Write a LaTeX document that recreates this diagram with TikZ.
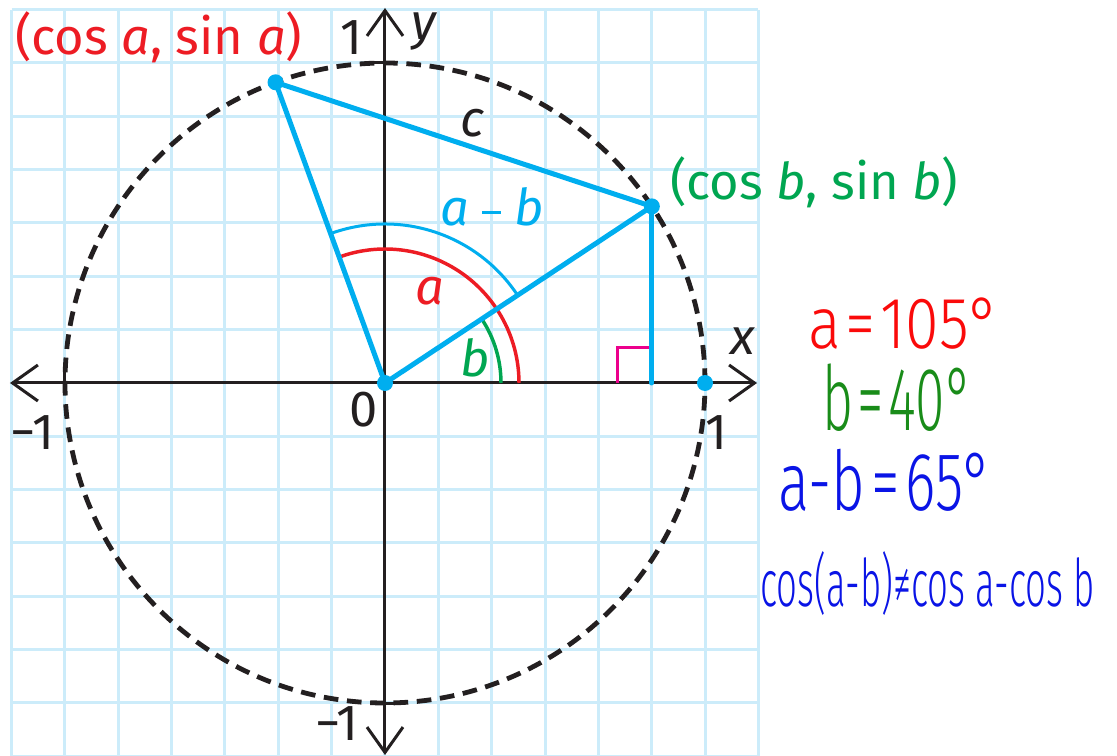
\documentclass[tikz,border=0pt]{standalone}
\usepackage{fontspec}
\setmainfont{Fira Sans}
\IfFontExistsTF{Fira Sans Light}{\newfontfamily\handfont{Fira Sans Light}}{\newfontfamily\handfont{Fira Sans}}
\usetikzlibrary{arrows.meta}
\definecolor{gridc}{RGB}{204,236,250}
\definecolor{ink}{RGB}{35,31,32}
\definecolor{cy}{RGB}{0,174,239}
\definecolor{rd}{RGB}{237,28,36}
\definecolor{gr}{RGB}{0,166,81}
\definecolor{mg}{RGB}{236,0,140}
\definecolor{hred}{RGB}{250,10,10}
\definecolor{hgreen}{RGB}{25,140,25}
\definecolor{hblue}{RGB}{10,20,230}
\tikzset{
  lbl/.style={font=\fontsize{38}{40}\selectfont, inner sep=0pt},
  gridline/.style={gridc, line width=2.25pt},
  axis/.style={ink, line width=2.25pt, {Straight Barb[length=19pt,width=27pt]}-{Straight Barb[length=19pt,width=27pt]}},
  tick/.style={ink, line width=2.25pt},
  unitcircle/.style={ink, line width=3.6pt, dash pattern=on 11pt off 6.5pt},
  seg/.style={cy, line width=3.75pt, line cap=round},
  dot/.style={cy},
  hand/.style={inner sep=0pt, font=\handfont},
}
\begin{document}
\begin{tikzpicture}[x=0.75pt,y=0.75pt]
\useasboundingbox (-385,-373) rectangle (732,383);
\fill[white] (-385,-373) rectangle (732,383);
% grid
\foreach \i in {-7,...,7} {
  \draw[gridline] (\i*53.333,-373) -- (\i*53.333,373);
  \draw[gridline] (-373,\i*53.333) -- (373,\i*53.333);
}
% circle
\draw[unitcircle] (0,0) circle (320);
% axes
\coordinate (xl) at (-375,0);
\coordinate (xr) at (372,0);
\coordinate (yb) at (0,-372);
\coordinate (yt) at (0,375);
\draw[axis] (xl) -- (xr);
\draw[axis] (yb) -- (yt);
\draw[tick] (-320,-12) -- (-320,12);
\draw[tick] (-12,320) -- (12,320);
\draw[tick] (-12,-320) -- (12,-320);
% points
\coordinate (O) at (0,0);
\coordinate (A) at (110:320);
\coordinate (B) at (33.5:320);
\coordinate (E) at (320,0);
\coordinate (F) at (B |- O);
% arcs
\draw[gr, line width=2.6pt] (116,0) arc[start angle=0, end angle=33.5, radius=116];
\draw[rd, line width=2.6pt] (134,0) arc[start angle=0, end angle=110, radius=134];
\draw[cy, line width=2.25pt] (33.5:159) arc[start angle=33.5, end angle=110, radius=159];
% right angle
\draw[mg, line width=2.25pt] (F) ++(-34,0) -- ++(0,35) -- ++(34,0);
% segments
\draw[seg] (O) -- (A);
\draw[seg] (A) -- (B);
\draw[seg] (O) -- (B);
\draw[seg] (B) -- (F);
% dots
\foreach \p in {O,A,B,E} \fill[dot] (\p) circle (8);
% labels
\node[lbl, text=rd, anchor=base west] (la) at (-370,328) {(cos \textit{a}, sin \textit{a})};
\node[lbl, text=gr, anchor=base west] (lb) at (285,183) {(cos \textit{b}, sin \textit{b})};
\node[lbl, text=ink, anchor=base] (lc) at (87,246) {\textit{c}};
\node[lbl, text=cy, anchor=base] (lab) at (107,157) {\textit{a}\hspace{0.25em}\rule[0.24em]{0.38em}{0.065em}\hspace{0.25em}\textit{b}};
\node[lbl, text=rd, anchor=base] (laa) at (45,78) {\textit{a}};
\node[lbl, text=gr, anchor=base] (lbb) at (90,6) {\textit{b}};
\node[lbl, text=ink, anchor=base] (one) at (-34,328) {1};
\node[lbl, text=ink, anchor=base] (ylab) at (40,343) {\textit{y}};
\node[lbl, text=ink, anchor=base] (xlab) at (358,28) {\textit{x}};
\node[lbl, text=ink, anchor=base] (zero) at (-21,-44) {0};
\node[lbl, text=ink, anchor=base west] (mone) at (-375,-67) {−1};
\node[lbl, text=ink, anchor=base] (onex) at (331,-67) {1};
\node[lbl, text=ink, anchor=base east] (money) at (-26,-357) {−1};
% handwritten notes
\node[hand, anchor=south west] (n1) at (423,33) {\resizebox{144pt}{38pt}{\color{hred}a\hspace{0.08em}=\hspace{0.08em}105°}};
\node[hand, anchor=south west] (n2) at (437,-49) {\resizebox{113pt}{50pt}{\color{hgreen}b\hspace{0.08em}=\hspace{0.08em}40°}};
\node[hand, anchor=south west] (n3) at (393,-129) {\resizebox{161pt}{46pt}{\color{hblue}a-b\hspace{0.1em}=\hspace{0.1em}65°}};
\node[hand, anchor=north west] (n4) at (375,-168) {\resizebox*{251pt}{48pt}{\color{hblue}cos(a-b)≠cos a-cos b}};
\end{tikzpicture}
\end{document}
